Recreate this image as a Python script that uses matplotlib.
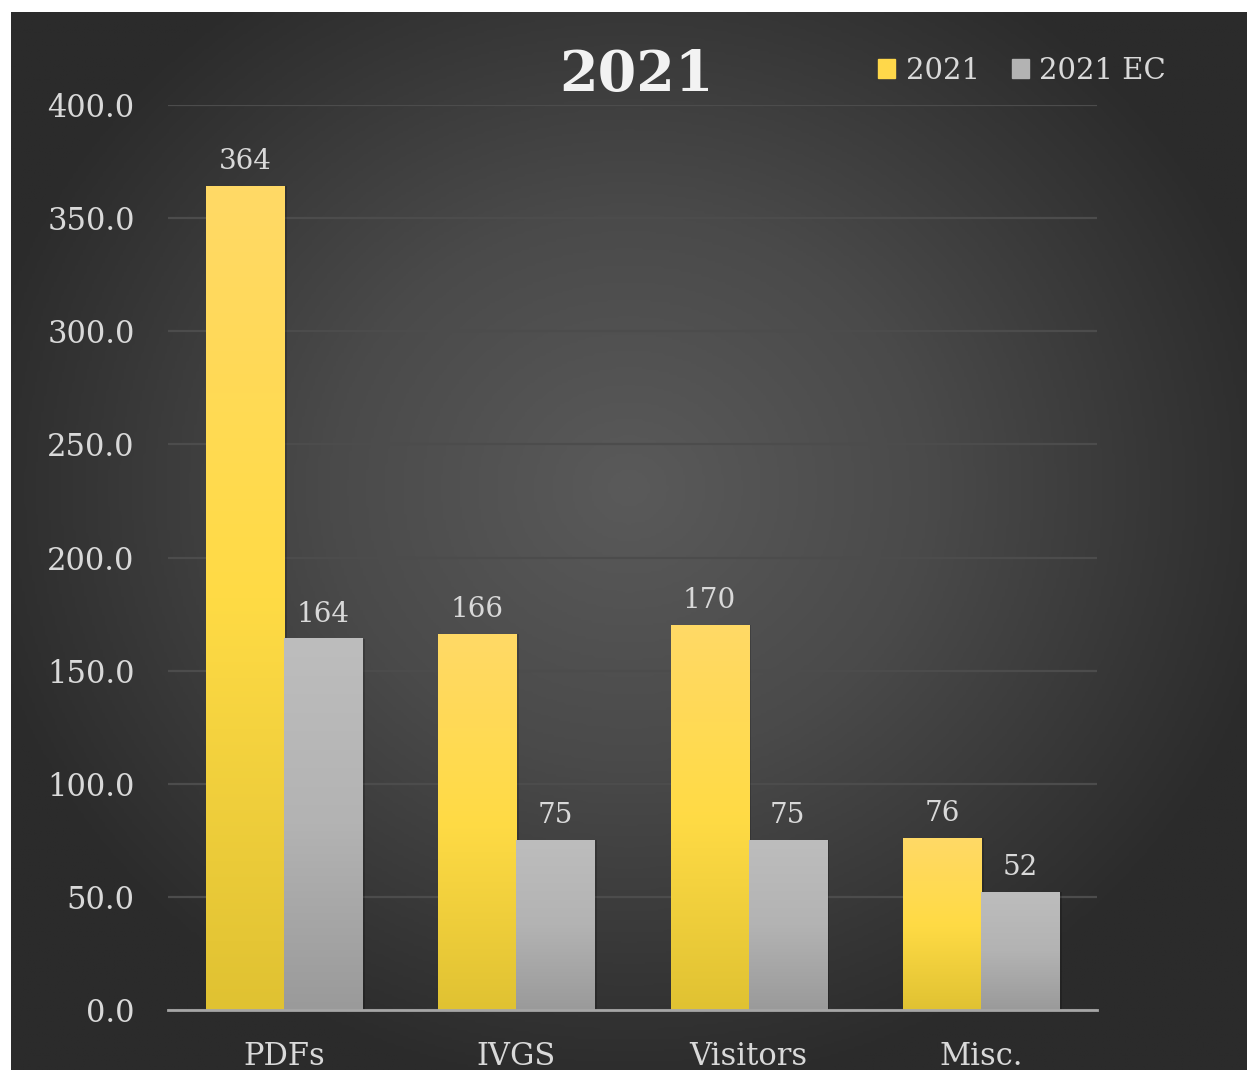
import numpy as np
import matplotlib.pyplot as plt
from matplotlib.colors import LinearSegmentedColormap

categories = ['PDFs', 'IVGS', 'Visitors', 'Misc.']
series_names = ['2021', '2021 EC']
values_2021 = [364, 166, 170, 76]
values_2021_ec = [164, 75, 75, 52]
yticks = [0, 50, 100, 150, 200, 250, 300, 350, 400]

W, H = 1247, 1070
fig = plt.figure(figsize=(W / 100, H / 100), dpi=100, facecolor='white')
serif = ['DejaVu Serif']
txt = '#d9d9d9'

# dark radial background panel
bg = fig.add_axes([11 / W, 0, 1 - 11 / W, (H - 12) / H])
yy, xx = np.mgrid[0:1:400j, 0:1:460j]
r = np.sqrt(((xx - 0.5) / 0.75) ** 2 + ((yy - 0.45) / 0.8) ** 2)
r = np.clip(r / 0.72, 0, 1)
bg_cmap = LinearSegmentedColormap.from_list(
    'bg', [(0, '#5a5a5a'), (0.45, '#4a4a4a'), (0.8, '#363636'), (1, '#2b2b2b')])
bg.imshow(r, cmap=bg_cmap, aspect='auto', extent=[0, 1, 0, 1], vmin=0, vmax=1)
bg.axis('off')

ax = fig.add_axes([168 / W, (H - 1010) / H, (1097 - 168) / W, (1010 - 105) / H])
ax.patch.set_alpha(0)

x = np.arange(len(categories))
width = 0.336
yellow = LinearSegmentedColormap.from_list('y', ['#ffd966', '#ffdb45', '#e0c232'])
grey = LinearSegmentedColormap.from_list('g', ['#bdbdbd', '#b3b3b3', '#9a9a9a'])

def gradient_bars(xs, vals, cmap, label):
    bars = ax.bar(xs, vals, width, color='none', label=label, zorder=3)
    grad = np.linspace(0, 1, 256).reshape(-1, 1)
    for b in bars:
        x0, y0 = b.get_x(), b.get_y()
        w, h = b.get_width(), b.get_height()
        # soft shadow to the right of the bar
        ax.add_patch(plt.Rectangle((x0 + 0.012, y0), w, h, color='black',
                                   alpha=0.18, zorder=2, lw=0))
        ax.imshow(grad, cmap=cmap, aspect='auto', extent=[x0, x0 + w, y0, y0 + h],
                  zorder=3, interpolation='bicubic')
        ax.text(x0 + w / 2, h + 5, f'{h:g}', ha='center', va='bottom',
                fontsize=20, color=txt, family=serif, zorder=4)
    return bars

gradient_bars(x - width / 2, values_2021, yellow, series_names[0])
gradient_bars(x + width / 2, values_2021_ec, grey, series_names[1])

ax.set_xlim(-0.5, 3.5)
ax.set_ylim(0, 400)
ax.set_yticks(yticks)
ax.set_yticklabels([f'{v:.1f}' for v in yticks], family=serif, fontsize=22, color=txt)
ax.set_xticks(x)
ax.set_xticklabels(categories, family=serif, fontsize=22, color=txt)
ax.tick_params(length=0)
ax.tick_params(axis='y', pad=24)
ax.tick_params(axis='x', pad=22)
ax.grid(axis='y', color='#4c4c4c', lw=1.6, zorder=0)
ax.set_axisbelow(True)
for s in ['top', 'right', 'left']:
    ax.spines[s].set_visible(False)
ax.spines['bottom'].set_color('#a6a6a6')
ax.spines['bottom'].set_linewidth(2)
ax.spines['bottom'].set_zorder(5)

fig.text(636 / W, 1 - 75 / H, '2021', ha='center', va='center', fontsize=40,
         fontweight='bold', color='#f2f2f2', family=serif)

# legend
handles = [plt.Rectangle((0, 0), 1, 1, color=c) for c in ['#ffd84a', '#b3b3b3']]
leg = fig.legend(handles, series_names, loc='center', bbox_to_anchor=(1022 / W, 1 - 71 / H),
                 ncol=2, frameon=False, handlelength=0.6, handleheight=0.6,
                 handletextpad=0.35, columnspacing=1.1,
                 prop={'family': serif, 'size': 21})
for t in leg.get_texts():
    t.set_color(txt)

fig.savefig('out.png', dpi=100, facecolor='white')
